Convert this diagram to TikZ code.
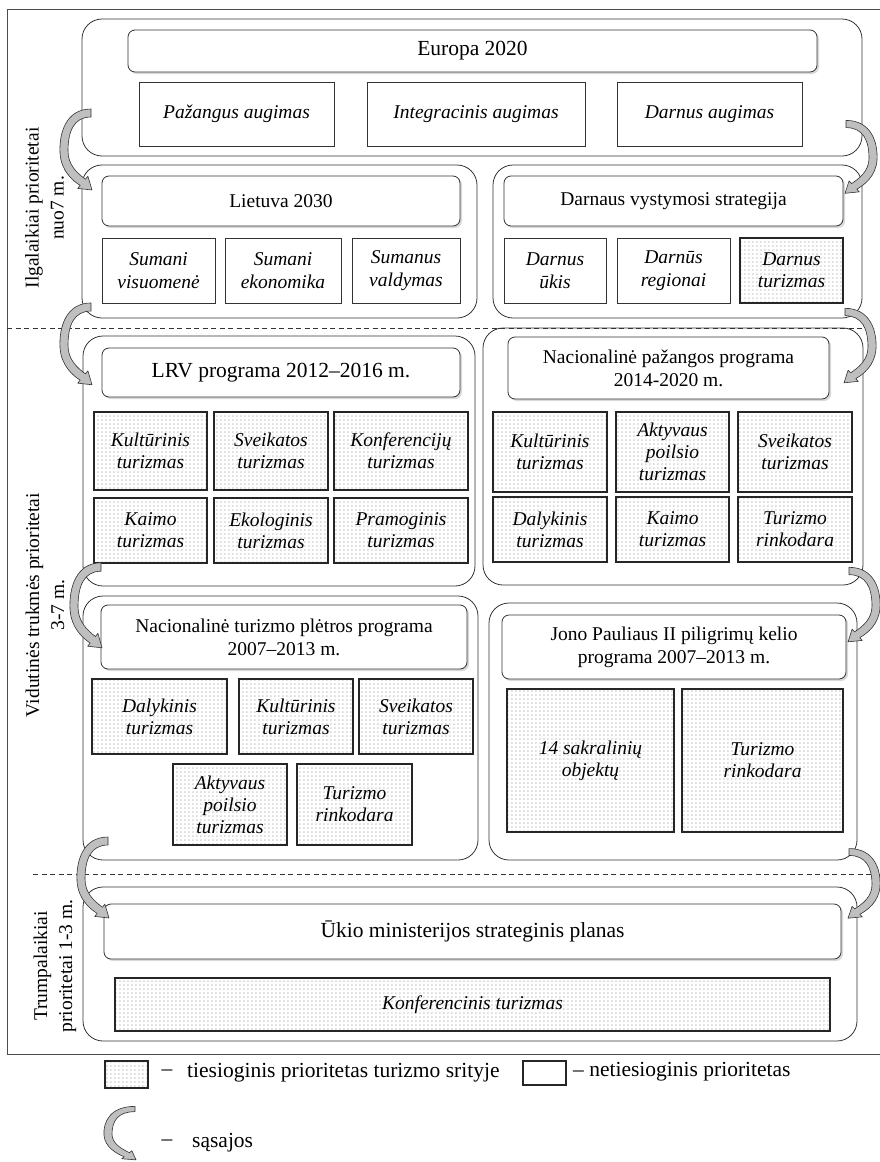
\documentclass[tikz,border=0pt]{standalone}
\usepackage{fontspec}
\setmainfont{Liberation Serif}
\usetikzlibrary{shadows,patterns.meta}

\tikzdeclarepattern{
  name=refdots, type=uncolored,
  bounding box={(0pt,0pt) and (4.4pt,4.4pt)},
  tile size={(4.4pt,4.4pt)},
  code={\fill (2.2pt,2.2pt) circle (0.75pt);}
}

\tikzset{
  panel/.style={draw=black!80, line width=0.8pt, rounded corners=20pt, inner sep=0pt},
  hdr/.style={draw=black!80, line width=0.8pt, rounded corners=7pt, fill=white, inner sep=0pt,
    align=center, drop shadow={shadow xshift=2pt, shadow yshift=-2pt, opacity=.3}},
  bigtext/.style={font=\fontsize{21.5}{25}\selectfont},
  plainbox/.style={draw=black!80, line width=0.8pt, fill=white, inner sep=0pt, align=center, font=\fontsize{19.5}{23}\selectfont\itshape},
  dotbox/.style={draw=black!85, line width=2pt, pattern=refdots, pattern color=black!40, inner sep=0pt, align=center, font=\fontsize{19.5}{22}\selectfont\itshape},
  sidelabel/.style={rotate=90, align=center, inner sep=0pt},
  divider/.style={draw=black!80, line width=0.7pt, dash pattern=on 5pt off 3.5pt},
  sasaja/.pic={
    \draw[fill=gray!50, draw=black!80, line width=0.6pt, line join=round]
      (0,-4) .. controls (-25,-4) and (-32,20) .. (-31,40)
      .. controls (-30,58) and (-18,68) .. (-10.8,72.4)
      -- (-13.3,75.4) -- (1,77) -- (-3.1,63.2) -- (-5.6,66.2)
      .. controls (-14,60) and (-23,52) .. (-23,38)
      .. controls (-23,18) and (-17,4) .. (0,4) -- cycle;
  }
}

\begin{document}
\begin{tikzpicture}[x=1pt, y=-1pt, font=\fontsize{19.5}{23}\selectfont]
\useasboundingbox (0,0) rectangle (880,1162);

% outer frame and dividers
\draw[draw=black!70, line width=0.7pt] (7,9) rectangle (884,1054);
\draw[divider] (7,328) -- (874,328);
\draw[divider] (33,874) -- (880,874);

% side labels
\node[sidelabel] (lab1) at (44.5,208) {Ilgalaikiai prioritetai\\[2pt]nuo7 m.};
\node[sidelabel] (lab2) at (45,605) {Vidutinės trukmės prioritetai\\[2pt]3-7 m.};
\node[sidelabel] (lab3) at (55,966) {Trumpalaikiai\\[2pt]prioritetai 1-3 m.};

% panels
\node[panel, minimum width=780, minimum height=137] (p1) at (472,87.5) {};
\node[panel, minimum width=395, minimum height=153] (p2) at (279.5,241.5) {};
\node[panel, minimum width=369, minimum height=153] (p3) at (677.5,241.5) {};
\node[panel, minimum width=392, minimum height=250] (p4) at (279,461) {};
\node[panel, minimum width=380, minimum height=257] (p5) at (673,456.5) {};
\node[panel, minimum width=395, minimum height=264] (p6) at (280.5,728) {};
\node[panel, minimum width=368, minimum height=257] (p7) at (673,731.5) {};
\node[panel, minimum width=774, minimum height=154] (p8) at (470,964) {};

% headers
\node[hdr, bigtext, minimum width=689, minimum height=42] (h1) at (472.5,51) {Europa 2020};
\node[hdr, minimum width=358, minimum height=50] (h2) at (281,201) {Lietuva 2030};
\node[hdr, minimum width=339, minimum height=50] (h3) at (673.5,201) {Darnaus vystymosi strategija};
\node[hdr, bigtext, minimum width=358, minimum height=49] (h4) at (281,372.5) {LRV programa 2012–2016 m.};
\node[hdr, minimum width=321, minimum height=62] (h5) at (668.5,368) {Nacionalinė pažangos programa\\2014-2020 m.};
\node[hdr, minimum width=366, minimum height=64] (h6) at (284,637) {Nacionalinė turizmo plėtros programa\\2007–2013 m.};
\node[hdr, minimum width=344, minimum height=64] (h7) at (674,647) {Jono Pauliaus II piligrimų kelio\\programa 2007–2013 m.};
\node[hdr, bigtext, minimum width=737, minimum height=55] (h8) at (472.5,931.5) {Ūkio ministerijos strateginis planas};

% Europa 2020
\node[plainbox, minimum width=195, minimum height=64] (e1) at (236.5,114) {Pažangus augimas};
\node[plainbox, minimum width=218, minimum height=64] (e2) at (476,114) {Integracinis augimas};
\node[plainbox, minimum width=185, minimum height=64] (e3) at (709.5,114) {Darnus augimas};

% Lietuva 2030
\node[plainbox, minimum width=113, minimum height=65] (l1) at (158.5,270.5) {Sumani\\visuomenė};
\node[plainbox, minimum width=116, minimum height=65] (l2) at (283,270.5) {Sumani\\ekonomika};
\node[plainbox, minimum width=108, minimum height=65] (l3) at (406,270.5) {Sumanus\\valdymas};

% Darnaus vystymosi strategija
\node[plainbox, minimum width=102, minimum height=65] (d1) at (555,270.5) {Darnus\\ūkis};
\node[plainbox, minimum width=113, minimum height=65] (d2) at (673.5,270.5) {Darnūs\\regionai};
\node[dotbox, minimum width=103, minimum height=65] (d3) at (791.5,270.5) {Darnus\\turizmas};

% LRV programa
\node[dotbox, minimum width=113, minimum height=78] (r1) at (150.5,451) {Kultūrinis\\turizmas};
\node[dotbox, minimum width=114, minimum height=78] (r2) at (271,451) {Sveikatos\\turizmas};
\node[dotbox, minimum width=134, minimum height=78] (r3) at (401,451) {Konferencijų\\turizmas};
\node[dotbox, minimum width=113, minimum height=65] (r4) at (150.5,530.5) {Kaimo\\turizmas};
\node[dotbox, minimum width=114, minimum height=65] (r5) at (271,530.5) {Ekologinis\\turizmas};
\node[dotbox, minimum width=134, minimum height=65] (r6) at (401,530.5) {Pramoginis\\turizmas};

% Nacionaline pazangos programa
\node[dotbox, minimum width=114, minimum height=80] (n1) at (550,452) {Kultūrinis\\turizmas};
\node[dotbox, minimum width=113, minimum height=80] (n2) at (672.5,452) {Aktyvaus\\poilsio\\turizmas};
\node[dotbox, minimum width=114, minimum height=80] (n3) at (795,452) {Sveikatos\\turizmas};
\node[dotbox, minimum width=114, minimum height=65] (n4) at (550,529.5) {Dalykinis\\turizmas};
\node[dotbox, minimum width=113, minimum height=65] (n5) at (672.5,529.5) {Kaimo\\turizmas};
\node[dotbox, minimum width=114, minimum height=65] (n6) at (795,529.5) {Turizmo\\rinkodara};

% Nacionaline turizmo pletros programa
\node[dotbox, minimum width=135, minimum height=75] (t1) at (159.5,716.5) {Dalykinis\\turizmas};
\node[dotbox, minimum width=114, minimum height=75] (t2) at (296,716.5) {Kultūrinis\\turizmas};
\node[dotbox, minimum width=114, minimum height=75] (t3) at (416,716.5) {Sveikatos\\turizmas};
\node[dotbox, minimum width=114, minimum height=81] (t4) at (230,804.5) {Aktyvaus\\poilsio\\turizmas};
\node[dotbox, minimum width=115, minimum height=81] (t5) at (354.5,804.5) {Turizmo\\rinkodara};

% Jono Pauliaus II
\node[dotbox, minimum width=167, minimum height=143] (j1) at (590.5,760.5) {14 sakralinių\\objektų};
\node[dotbox, minimum width=161, minimum height=143] (j2) at (762.5,760.5) {Turizmo\\rinkodara};

% Ukio ministerija
\node[dotbox, minimum width=715, minimum height=53] (k1) at (472.5,1004.5) {Konferencinis turizmas};

% links (sasajos)
\coordinate (la1) at (91,113);
\coordinate (la2) at (91,307);
\coordinate (la3) at (101,567);
\coordinate (la4) at (108,841);
\coordinate (ra1) at (846,124);
\coordinate (ra2) at (845,312);
\coordinate (ra3) at (849,571);
\coordinate (ra4) at (849,852);
\pic at (la1) {sasaja};
\pic[yscale=1.01] at (la2) {sasaja};
\pic[yscale=1.05] at (la3) {sasaja};
\pic at (la4) {sasaja};
\pic[xscale=-1, yscale=0.9] at (ra1) {sasaja};
\pic[xscale=-1, yscale=0.92] at (ra2) {sasaja};
\pic[xscale=-1, yscale=0.92] at (ra3) {sasaja};
\pic[xscale=-1, yscale=0.86] at (ra4) {sasaja};

% legend
\node[dotbox, minimum width=43, minimum height=27] (lg1) at (126.5,1074.5) {};
\node[bigtext] (lgd1) at (167,1073) {–};
\node[bigtext, anchor=west, inner sep=0pt] (lgt1) at (187,1073) {tiesioginis prioritetas turizmo srityje};
\node[draw=black!85, line width=2pt, minimum width=43, minimum height=24, inner sep=0pt] (lg2) at (544.5,1073) {};
\node[bigtext, anchor=west, inner sep=0pt] (lgt2) at (573,1072) {– netiesioginis prioritetas};
\coordinate (lga) at (135,1109);
\pic[yscale=0.66] at (lga) {sasaja};
\node[bigtext] (lgd3) at (167,1143) {–};
\node[bigtext, anchor=west, inner sep=0pt] (lgt3) at (192,1143) {sąsajos};
\end{tikzpicture}
\end{document}
